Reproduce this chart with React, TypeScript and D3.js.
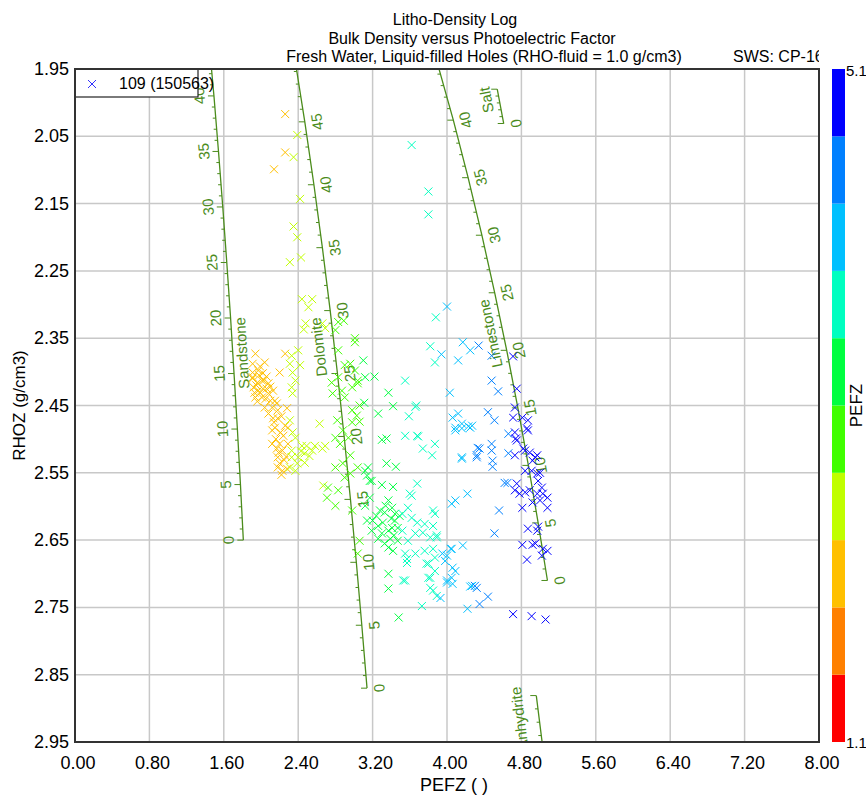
import React from 'react';
import * as d3 from 'd3';

const WIDTH = 866;
const HEIGHT = 795;
const PLOT = { left: 75, right: 819, top: 69, bottom: 742 };
const FONT = "'Liberation Sans', Arial, Helvetica, sans-serif";
const LITHO_COLOR = '#4b8c1c';

// axes
const xDomain = [0, 8];
const yDomain = [1.95, 2.95];
const xTickValues = [0, 0.8, 1.6, 2.4, 3.2, 4.0, 4.8, 5.6, 6.4, 7.2, 8.0];
const yTickValues = [1.95, 2.05, 2.15, 2.25, 2.35, 2.45, 2.55, 2.65, 2.75, 2.85, 2.95];

// colour scale (PEFZ)
const colorDomain = [1.1, 5.1];
const colorBins = ['#ff0000', '#ff8000', '#ffc000', '#c0ff00', '#40ff00', '#00ff40', '#00ffc0', '#00c0ff', '#0080ff', '#0000ff'];

const titleLines = [
  'Litho-Density Log',
  'Bulk Density versus Photoelectric Factor',
  'Fresh Water, Liquid-filled Holes (RHO-fluid = 1.0 g/cm3)',
];
const titleCenters = [455, 472, 484];
const subtitleRight = 'SWS: CP-16';
const legendLabel = '109 (150563)';
const xAxisTitle = 'PEFZ ( )';
const yAxisTitle = 'RHOZ (g/cm3)';
const colorTitle = 'PEFZ';

// lithology lines (porosity %, PEF, bulk density)
const porosityStops = [0, 5, 10, 15, 20, 25, 30, 35, 40, 45, 50];
const sandstonePef = [1.81, 1.779, 1.746, 1.71, 1.673, 1.632, 1.589, 1.543, 1.494, 1.44, 1.382];
const sandstoneRho = [2.65, 2.5675, 2.485, 2.4025, 2.32, 2.2375, 2.155, 2.0725, 1.99, 1.9075, 1.825];
const dolomitePef = [3.14, 3.084, 3.025, 2.962, 2.894, 2.822, 2.744, 2.66, 2.569, 2.471, 2.364];
const dolomiteRho = [2.87, 2.7765, 2.683, 2.5895, 2.496, 2.4025, 2.309, 2.2155, 2.122, 2.0285, 1.935];
const limestonePef = [5.08, 4.98, 4.875, 4.762, 4.642, 4.513, 4.375, 4.227, 4.068, 3.895, 3.708];
const limestoneRho = [2.71, 2.6245, 2.539, 2.4535, 2.368, 2.2825, 2.197, 2.1115, 2.026, 1.9405, 1.855];
const saltPorosity = [0, 5];
const saltPef = [4.61, 4.54];
const saltRho = [2.031, 1.98];
const anhydritePorosity = [0, 5];
const anhydritePef = [5.05, 4.96];
const anhydriteRho = [2.98, 2.881];

// samples [PEFZ, RHOZ]
const amberSamples: [number, number][] = [
  [2.26, 2.017], [2.26, 2.074], [2.14, 2.099],
  [1.94, 2.373], [2.26, 2.373], [1.91, 2.388], [2.04, 2.386], [2.2, 2.401], [1.91, 2.41], [1.96, 2.416],
  [2.01, 2.413], [1.92, 2.423], [1.97, 2.428], [2.02, 2.425], [1.94, 2.438], [2.01, 2.438], [2.08, 2.432],
  [2.08, 2.417], [2.13, 2.428], [2.15, 2.443], [2.04, 2.453], [2.12, 2.453], [2.18, 2.457], [2.08, 2.462],
  [2.13, 2.469], [2.18, 2.469], [2.28, 2.454], [2.26, 2.48], [2.15, 2.483], [2.12, 2.507], [2.2, 2.507],
  [2.23, 2.517], [2.18, 2.527], [2.2, 2.536], [2.23, 2.547], [2.18, 2.542], [2.28, 2.544], [2.29, 2.483],
  [2.24, 2.495], [2.12, 2.487], [1.97, 2.398], [1.91, 2.408], [2.02, 2.402], [1.91, 2.401], [1.95, 2.42],
  [1.99, 2.431], [1.93, 2.431], [2.05, 2.44], [1.98, 2.405], [2.03, 2.413], [2.1, 2.443], [2.17, 2.447],
  [2.22, 2.466], [2.16, 2.5], [2.27, 2.526], [2.17, 2.514], [2.29, 2.507], [1.99, 2.392], [2.06, 2.407],
  [2.1, 2.422], [1.96, 2.444], [2.14, 2.475], [2.21, 2.49], [2.25, 2.531], [2.22, 2.553], [2.19, 2.52],
  [2.06, 2.425],
];
const yellowGreenSamples: [number, number][] = [
  [2.39, 2.048], [2.35, 2.081], [2.42, 2.143], [2.35, 2.184], [2.39, 2.2], [2.43, 2.23], [2.31, 2.237],
  [2.44, 2.292], [2.55, 2.292], [2.51, 2.304], [2.48, 2.328], [2.46, 2.337], [2.66, 2.328], [2.69, 2.335],
  [2.33, 2.376], [2.31, 2.388], [2.34, 2.401], [2.37, 2.413], [2.33, 2.423], [2.34, 2.432], [2.31, 2.472],
  [2.37, 2.498], [2.33, 2.517], [2.44, 2.51], [2.49, 2.51], [2.47, 2.521], [2.4, 2.527], [2.39, 2.536],
  [2.33, 2.527], [2.55, 2.517], [2.58, 2.51], [2.66, 2.514], [2.63, 2.477], [2.69, 2.51], [2.37, 2.547],
  [2.31, 2.542], [2.47, 2.535], [2.4, 2.368], [2.42, 2.39], [2.34, 2.49], [2.52, 2.525], [2.43, 2.518],
  [2.67, 2.569],
];
const greenSamples: [number, number][] = [
  [2.83, 2.326], [2.89, 2.324], [2.8, 2.338], [3.01, 2.35], [3.01, 2.356], [3.1, 2.383], [2.96, 2.388],
  [3.22, 2.407], [3.12, 2.408], [3.04, 2.417], [3.11, 2.446], [3.06, 2.474], [2.98, 2.475], [2.72, 2.572],
  [2.83, 2.576], [2.71, 2.587], [2.8, 2.599], [2.82, 2.472], [2.88, 2.487], [2.8, 2.498], [2.85, 2.507],
  [2.94, 2.498], [2.96, 2.524], [2.83, 2.368], [2.9, 2.39], [2.83, 2.408], [2.87, 2.428], [2.9, 2.438],
  [3.01, 2.398], [2.98, 2.423], [3.04, 2.413], [2.77, 2.432], [2.76, 2.416], [2.98, 2.457], [3.03, 2.465],
  [2.88, 2.536], [2.8, 2.542], [2.96, 2.551], [2.9, 2.557], [2.98, 2.606], [3.12, 2.547], [3.19, 2.562],
  [3.06, 2.45], [3.37, 2.431], [3.42, 2.451], [3.26, 2.462], [3.3, 2.501], [3.35, 2.499], [3.35, 2.536],
  [3.45, 2.541], [3.04, 2.542], [3.15, 2.542], [3.14, 2.554], [3.17, 2.562], [3.3, 2.568], [3.42, 2.571],
  [3.17, 2.587], [3.12, 2.599], [3.37, 2.591], [3.41, 2.602], [3.33, 2.609], [3.44, 2.611], [3.2, 2.621],
  [3.14, 2.621], [3.26, 2.629], [3.19, 2.636], [3.3, 2.64], [3.41, 2.632], [3.47, 2.632], [3.39, 2.648],
  [3.47, 2.651], [3.33, 2.655], [3.26, 2.648], [3.37, 2.661], [3.42, 2.666], [3.06, 2.651], [3.04, 2.67],
  [3.37, 2.7], [3.37, 2.722], [3.48, 2.765], [3.28, 2.606], [3.34, 2.599], [3.4, 2.618], [3.44, 2.621],
  [3.31, 2.624], [3.49, 2.614], [3.24, 2.614], [3.37, 2.636], [3.43, 2.643],
];
const aquaSamples: [number, number][] = [
  [3.62, 2.063], [3.8, 2.132], [3.8, 2.166], [3.88, 2.319], [3.82, 2.362], [3.87, 2.386], [3.55, 2.413],
  [3.68, 2.566], [3.6, 2.581], [3.85, 2.606], [3.85, 2.663], [3.78, 2.685], [3.82, 2.706], [3.85, 2.725],
  [3.53, 2.71], [3.57, 2.678], [3.66, 2.67], [3.66, 2.452], [3.59, 2.466], [3.55, 2.495], [3.68, 2.495],
  [3.74, 2.514], [3.87, 2.507], [3.84, 2.524], [3.67, 2.45], [3.69, 2.496], [3.62, 2.584], [3.52, 2.611],
  [3.58, 2.602], [3.62, 2.617], [3.68, 2.624], [3.76, 2.626], [3.74, 2.639], [3.66, 2.64], [3.87, 2.611],
  [3.85, 2.629], [3.82, 2.646], [3.89, 2.646], [3.58, 2.651], [3.55, 2.67], [3.57, 2.684], [3.76, 2.666],
  [3.8, 2.685], [3.87, 2.676], [3.87, 2.696], [3.8, 2.706], [3.82, 2.721], [3.73, 2.748], [3.55, 2.71],
  [3.52, 2.636], [3.89, 2.643], [3.89, 2.733],
];
const skySamples: [number, number][] = [
  [4.0, 2.303], [3.94, 2.374], [4.17, 2.356], [4.25, 2.368], [4.12, 2.383], [4.03, 2.431], [4.06, 2.468],
  [4.12, 2.462], [4.09, 2.483], [4.16, 2.484], [4.23, 2.481], [4.27, 2.48], [4.16, 2.529], [4.22, 2.581],
  [4.09, 2.591], [4.05, 2.596], [4.17, 2.658], [4.05, 2.663], [4.06, 2.691], [4.05, 2.706], [4.0, 2.713],
  [4.25, 2.719], [4.22, 2.752], [4.0, 2.673], [3.95, 2.67], [4.04, 2.663], [3.98, 2.681], [4.09, 2.696],
  [4.0, 2.71], [4.06, 2.715], [4.27, 2.718], [4.16, 2.477], [4.25, 2.483], [4.09, 2.487], [4.16, 2.527],
  [3.93, 2.736],
];
const azureSamples: [number, number][] = [
  [4.34, 2.361], [4.48, 2.376], [4.48, 2.413], [4.55, 2.429], [4.44, 2.46], [4.51, 2.472], [4.66, 2.492],
  [4.32, 2.527], [4.35, 2.514], [4.48, 2.507], [4.48, 2.517], [4.49, 2.532], [4.49, 2.541], [4.65, 2.565],
  [4.56, 2.606], [4.51, 2.64], [4.3, 2.718], [4.44, 2.734], [4.35, 2.745], [4.33, 2.513], [4.32, 2.524],
  [4.32, 2.721], [4.66, 2.521], [4.62, 2.565],
];
const blueSamples: [number, number][] = [
  [4.71, 2.377], [4.73, 2.453], [4.71, 2.468], [4.81, 2.468], [4.86, 2.484], [4.73, 2.49], [4.75, 2.502],
  [4.75, 2.425], [4.87, 2.472], [4.87, 2.487], [4.74, 2.499], [4.82, 2.514], [4.73, 2.524], [4.89, 2.52],
  [4.97, 2.524], [4.92, 2.532], [4.84, 2.547], [4.97, 2.551], [5.0, 2.55], [4.98, 2.562], [4.75, 2.566],
  [4.73, 2.576], [4.78, 2.581], [4.84, 2.579], [4.89, 2.576], [5.02, 2.572], [5.03, 2.581], [5.08, 2.587],
  [5.0, 2.591], [4.92, 2.594], [4.81, 2.602], [5.08, 2.602], [4.87, 2.633], [4.98, 2.63], [4.81, 2.657],
  [4.92, 2.657], [5.08, 2.666], [5.02, 2.673], [4.86, 2.679], [4.71, 2.76], [4.91, 2.763], [5.06, 2.768],
  [4.84, 2.517], [4.95, 2.527], [4.91, 2.547], [4.97, 2.581], [5.03, 2.663], [4.95, 2.655], [4.97, 2.636],
];

type Mineral = {
  name: string;
  phi: number[];
  pef: number[];
  rho: number[];
  labelOffset: number;
  labeled: number[];
  nameRho: number;
  nameOffset: number;
};

const minerals: Mineral[] = [
  { name: 'Sandstone', phi: porosityStops, pef: sandstonePef, rho: sandstoneRho, labelOffset: -15, labeled: porosityStops, nameRho: 2.372, nameOffset: 9 },
  { name: 'Dolomite', phi: porosityStops, pef: dolomitePef, rho: dolomiteRho, labelOffset: 12, labeled: porosityStops, nameRho: 2.363, nameOffset: -16 },
  { name: 'Limestone', phi: porosityStops, pef: limestonePef, rho: limestoneRho, labelOffset: 12, labeled: porosityStops, nameRho: 2.343, nameOffset: -13 },
  { name: 'Salt', phi: saltPorosity, pef: saltPef, rho: saltRho, labelOffset: 12, labeled: [0], nameRho: 1.996, nameOffset: -13 },
  { name: 'Anhydrite', phi: anhydritePorosity, pef: anhydritePef, rho: anhydriteRho, labelOffset: 12, labeled: [], nameRho: 2.915, nameOffset: -20 },
];

export default function App() {
  const x = d3.scaleLinear().domain(xDomain).range([PLOT.left, PLOT.right]);
  const y = d3.scaleLinear().domain(yDomain).range([PLOT.top, PLOT.bottom]);
  const color = d3.scaleQuantize<string>().domain(colorDomain as [number, number]).range(colorBins);
  const cbY = d3.scaleLinear().domain(colorDomain).range([PLOT.bottom, PLOT.top]);
  const cbStep = (colorDomain[1] - colorDomain[0]) / colorBins.length;

  const samples = [
    ...amberSamples, ...yellowGreenSamples, ...greenSamples, ...aquaSamples,
    ...skySamples, ...azureSamples, ...blueSamples,
  ];

  const lineGen = d3.line<{ px: number; py: number }>().x((d) => d.px).y((d) => d.py);

  const renderMineral = (m: Mineral) => {
    const pts = m.phi.map((p, i) => ({ phi: p, px: x(m.pef[i]), py: y(m.rho[i]) }));
    const angleAt = (i: number) => {
      const a = pts[Math.max(0, i - 1)];
      const b = pts[Math.min(pts.length - 1, i + 1)];
      return (Math.atan2(b.py - a.py, b.px - a.px) * 180) / Math.PI;
    };
    const ticks: { px: number; py: number; major: boolean }[] = [];
    for (let i = 0; i < pts.length - 1; i++) {
      const a = pts[i];
      const b = pts[i + 1];
      const n = b.phi - a.phi;
      const last = i === pts.length - 2;
      for (let k = 0; k <= (last ? n : n - 1); k++) {
        const t = k / n;
        const phi = a.phi + k;
        ticks.push({ px: a.px + (b.px - a.px) * t, py: a.py + (b.py - a.py) * t, major: phi % 5 === 0 });
      }
    }
    let ni = 0;
    for (let i = 0; i < m.rho.length - 1; i++) {
      if ((m.rho[i] - m.nameRho) * (m.rho[i + 1] - m.nameRho) <= 0) ni = i;
    }
    const r0 = m.rho[ni];
    const r1 = m.rho[ni + 1];
    const tt = (m.nameRho - r0) / (r1 - r0);
    const nPef = m.pef[ni] + (m.pef[ni + 1] - m.pef[ni]) * tt;
    const nAng = (Math.atan2(pts[ni + 1].py - pts[ni].py, pts[ni + 1].px - pts[ni].px) * 180) / Math.PI;
    const nx = x(nPef) + m.nameOffset;
    const ny = y(m.nameRho);
    return (
      <g key={m.name}>
        <path d={lineGen(pts) || ''} fill="none" stroke={LITHO_COLOR} strokeWidth={1.3} />
        {ticks.map((t, i) => (
          <line key={i} x1={t.px - (t.major ? 6 : 3)} y1={t.py} x2={t.px} y2={t.py} stroke={LITHO_COLOR} strokeWidth={1} />
        ))}
        {pts.map((p, i) =>
          m.labeled.includes(p.phi) && p.py > PLOT.top + 10 && p.py < PLOT.bottom - 8 ? (
            <text
              key={'l' + i}
              transform={`translate(${p.px + m.labelOffset},${p.py}) rotate(${angleAt(i)})`}
              textAnchor="middle"
              dominantBaseline="central"
              fontSize={15}
              fill={LITHO_COLOR}
              fontFamily={FONT}
            >
              {p.phi}
            </text>
          ) : null
        )}
        <text
          transform={`translate(${nx},${ny}) rotate(${nAng})`}
          textAnchor="middle"
          dominantBaseline="central"
          fontSize={15}
          fill={LITHO_COLOR}
          fontFamily={FONT}
        >
          {m.name}
        </text>
      </g>
    );
  };

  const s = 4;
  return (
    <svg
      width={WIDTH}
      height={HEIGHT}
      viewBox={`0 0 ${WIDTH} ${HEIGHT}`}
      style={{ position: 'absolute', left: 0, top: 0, display: 'block', background: '#fff' }}
      fontFamily={FONT}
    >
      <defs>
        <clipPath id="plotClip">
          <rect x={PLOT.left} y={PLOT.top} width={PLOT.right - PLOT.left} height={PLOT.bottom - PLOT.top} />
        </clipPath>
        <clipPath id="subClip">
          <rect x={0} y={0} width={PLOT.right} height={PLOT.top} />
        </clipPath>
      </defs>
      <rect x={0} y={0} width={WIDTH} height={HEIGHT} fill="#fff" />

      {/* titles */}
      {titleLines.map((t, i) => (
        <text key={t} x={titleCenters[i]} y={25 + i * 18.5} textAnchor="middle" fontSize={16} fill="#000">
          {t}
        </text>
      ))}
      <text x={733} y={62} fontSize={16} fill="#000" clipPath="url(#subClip)">
        {subtitleRight}
      </text>

      {/* grid */}
      <g>
        {xTickValues.map((v) => (
          <line key={'gx' + v} x1={x(v)} x2={x(v)} y1={PLOT.top} y2={PLOT.bottom} stroke="#c8c8c8" strokeWidth={1.5} />
        ))}
        {yTickValues.map((v) => (
          <line key={'gy' + v} x1={PLOT.left} x2={PLOT.right} y1={y(v)} y2={y(v)} stroke="#c8c8c8" strokeWidth={1.5} />
        ))}
      </g>

      {/* lithology lines */}
      <g clipPath="url(#plotClip)">{minerals.map(renderMineral)}</g>

      {/* samples */}
      <g clipPath="url(#plotClip)">
        {samples.map(([p, r], i) => {
          const cx = x(p);
          const cy = y(r);
          const c = color(p);
          return (
            <path
              key={i}
              d={`M${cx - s},${cy - s}L${cx + s},${cy + s}M${cx - s},${cy + s}L${cx + s},${cy - s}`}
              stroke={c}
              strokeWidth={1}
              fill="none"
            />
          );
        })}
      </g>

      {/* legend */}
      <rect x={PLOT.left} y={PLOT.top} width={123} height={28} fill="#fff" stroke="#222" strokeWidth={1.2} />
      <path d={`M${92 - s},${84 - s}L${92 + s},${84 + s}M${92 - s},${84 + s}L${92 + s},${84 - s}`} stroke="#3030ff" strokeWidth={1} />
      <text x={119} y={89} fontSize={16} fill="#000">
        {legendLabel}
      </text>

      {/* frame */}
      <rect x={PLOT.left} y={PLOT.top} width={PLOT.right - PLOT.left} height={PLOT.bottom - PLOT.top} fill="none" stroke="#333" strokeWidth={2} />

      {/* tick labels */}
      {xTickValues.map((v) => (
        <text key={'tx' + v} x={x(v) + 3} y={769} textAnchor="middle" fontSize={18} fill="#000">
          {v.toFixed(2)}
        </text>
      ))}
      {yTickValues.map((v) => (
        <text key={'ty' + v} x={69} y={y(v)} textAnchor="end" dominantBaseline="central" fontSize={18} fill="#000">
          {v.toFixed(2)}
        </text>
      ))}

      {/* axis titles */}
      <text x={454} y={791} textAnchor="middle" fontSize={18} fill="#000">
        {xAxisTitle}
      </text>
      <text transform={`translate(19,${(PLOT.top + PLOT.bottom) / 2}) rotate(-90)`} textAnchor="middle" dominantBaseline="central" fontSize={17} fill="#000">
        {yAxisTitle}
      </text>

      {/* colour bar */}
      <g>
        {colorBins.map((c, i) => {
          const lo = colorDomain[0] + i * cbStep;
          const hi = lo + cbStep;
          return <rect key={c} x={832} y={cbY(hi)} width={13} height={cbY(lo) - cbY(hi)} fill={c} />;
        })}
        <text x={846} y={PLOT.top + 1} dominantBaseline="central" fontSize={15} fill="#000">
          {colorDomain[1].toFixed(1)}
        </text>
        <text x={846} y={PLOT.bottom} dominantBaseline="central" fontSize={15} fill="#000">
          {colorDomain[0].toFixed(1)}
        </text>
        <text transform={`translate(856,${(PLOT.top + PLOT.bottom) / 2}) rotate(-90)`} textAnchor="middle" dominantBaseline="central" fontSize={17} fill="#000">
          {colorTitle}
        </text>
      </g>
    </svg>
  );
}
